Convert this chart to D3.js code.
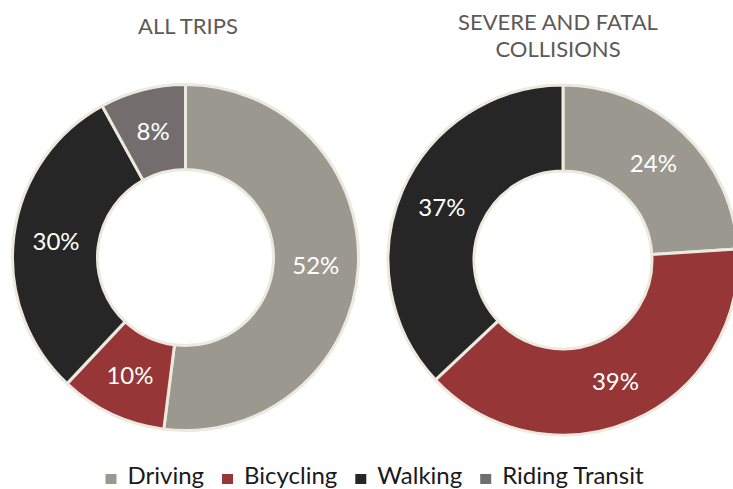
<!DOCTYPE html>
<html>
<head>
<meta charset="utf-8">
<script src="https://cdn.jsdelivr.net/npm/d3@7"></script>
<style>
  body { margin: 0; background: #fff; }
  svg { display: block; font-family: Lato, "Open Sans", sans-serif; }
</style>
</head>
<body>
<svg id="chart" width="733" height="489"></svg>
<script>
// categories & values
var modes = ["Driving", "Bicycling", "Walking", "Riding Transit"];
var modeColors = ["#9b998f", "#963636", "#262626", "#736e6d"];
var allTrips = [52, 10, 30, 8];
var severeFatal = [24, 39, 37, 0];
var titleAll = ["ALL TRIPS"];
var titleSevere = ["SEVERE AND FATAL", "COLLISIONS"];

var svg = d3.select("#chart");
var color = d3.scaleOrdinal().domain(modes).range(modeColors);
var pie = d3.pie().sort(null).value(function(d){ return d.v; });

function donut(vals, cx, cy, rOut, rIn, title, titleX, titleY){
    var data = modes.map(function(m, i){ return {mode: m, v: vals[i]}; });
    var arc = d3.arc().innerRadius(rIn).outerRadius(rOut);
    var g = svg.append("g").attr("transform", "translate(" + cx + "," + cy + ")");
    var slices = pie(data).filter(function(d){ return d.data.v > 0; });
    g.selectAll("path")
        .data(slices)
        .enter()
        .append("path")
        .attr("d", arc)
        .attr("fill", function(d){ return color(d.data.mode); })
        .attr("stroke", "#ece9de")
        .attr("stroke-width", 3)
        .attr("stroke-linejoin", "round");
    g.selectAll("text")
        .data(slices)
        .enter()
        .append("text")
        .attr("transform", function(d){ return "translate(" + arc.centroid(d) + ")"; })
        .attr("text-anchor", "middle")
        .attr("dy", "0.36em")
        .attr("fill", "#fff")
        .style("font-size", "24px")
        .text(function(d){ return d.data.v + "%"; });
    svg.selectAll(null)
        .data(title)
        .enter()
        .append("text")
        .attr("x", titleX)
        .attr("y", function(d, i){ return titleY + i * 27; })
        .attr("text-anchor", "middle")
        .attr("fill", "#5e5955")
        .style("font-size", "22px")
        .text(function(d){ return d; });
}

donut(allTrips, 185.5, 257.5, 173, 88, titleAll, 188, 34);
donut(severeFatal, 563, 260, 175, 89, titleSevere, 558, 30);

// legend
var leg = svg.append("g");
var items = leg.selectAll("g")
    .data(modes)
    .enter()
    .append("g");
items.append("rect")
    .attr("width", 11)
    .attr("height", 10)
    .attr("y", -10)
    .attr("fill", function(d){ return color(d); });
items.append("text")
    .attr("x", 22)
    .attr("fill", "#1a1a1a")
    .style("font-size", "24px")
    .text(function(d){ return d; });
var x = 0;
items.each(function(){
    var w = d3.select(this).select("text").node().getComputedTextLength();
    d3.select(this).attr("transform", "translate(" + x + ",0)");
    x += 22 + w + 18;
});
var total = x - 18;
leg.attr("transform", "translate(" + (374.5 - total / 2) + ",484)");
</script>
</body>
</html>
